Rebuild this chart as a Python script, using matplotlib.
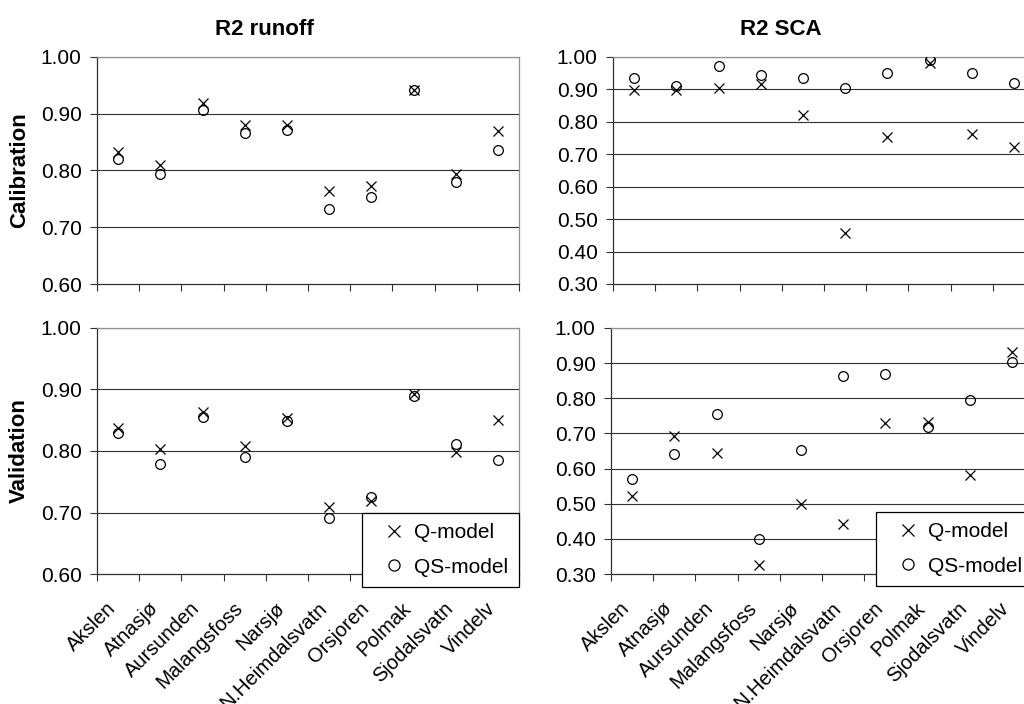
import numpy as np
import matplotlib
matplotlib.use('Agg')
import matplotlib.pyplot as plt
from matplotlib.lines import Line2D
from matplotlib.transforms import ScaledTranslation

plt.rcParams.update({
    'font.family': ['Liberation Sans', 'DejaVu Sans'],
    'font.size': 15,
})

# ── data ──────────────────────────────────────────────────────────────────────
catchments = ['Akslen', 'Atnasjø', 'Aursunden', 'Malangsfoss', 'Narsjø',
              'N.Heimdalsvatn', 'Orsjoren', 'Polmak', 'Sjodalsvatn', 'Vindelv']

# R2 runoff, calibration
run_cal_q  = [0.833, 0.810, 0.919, 0.880, 0.880, 0.763, 0.773, 0.941, 0.794, 0.870]
run_cal_qs = [0.821, 0.794, 0.906, 0.866, 0.871, 0.733, 0.754, 0.941, 0.780, 0.836]
# R2 SCA, calibration
sca_cal_q  = [0.897, 0.899, 0.905, 0.916, 0.820, 0.456, 0.753, 0.981, 0.763, 0.722]
sca_cal_qs = [0.936, 0.911, 0.971, 0.946, 0.936, 0.905, 0.951, 0.990, 0.951, 0.920]
# R2 runoff, validation
run_val_q  = [0.837, 0.804, 0.864, 0.808, 0.853, 0.709, 0.719, 0.892, 0.798, 0.850]
run_val_qs = [0.830, 0.779, 0.855, 0.791, 0.849, 0.691, 0.725, 0.890, 0.812, 0.786]
# R2 SCA, validation
sca_val_q  = [0.523, 0.694, 0.644, 0.325, 0.499, 0.442, 0.730, 0.732, 0.583, 0.931]
sca_val_qs = [0.569, 0.642, 0.755, 0.399, 0.654, 0.864, 0.869, 0.718, 0.796, 0.902]

W, H = 1024, 704
fig = plt.figure(figsize=(W/100, H/100), dpi=100)

def box(l, t, r, b):
    return [l/W, 1 - b/H, (r-l)/W, (b-t)/H]

ax_tl = fig.add_axes(box(97, 57, 519, 284))
ax_tr = fig.add_axes(box(613, 57, 1035, 284))
ax_bl = fig.add_axes(box(97, 328, 519, 574))
ax_br = fig.add_axes(box(611, 328, 1033, 574))

n = len(catchments)
x = np.arange(n)
shift = ScaledTranslation(-12/100, 3/100, fig.dpi_scale_trans)

def style(ax, q, qs, ylo, labels):
    ax.set_xlim(-0.5, n - 0.5)
    ax.set_ylim(ylo, 1.0)
    yt = np.round(np.arange(ylo, 1.0001, 0.1), 2)
    ax.set_yticks(yt)
    ax.set_yticklabels([f'{v:.2f}' for v in yt])
    for v in yt[1:]:
        ax.axhline(v, color='#303030', lw=0.8, zorder=1)
    ax.plot(x, q, ls='none', marker='x', ms=7, mew=0.9, color='black', zorder=3)
    ax.plot(x, qs, ls='none', marker='o', ms=7, mew=0.9, mfc='none',
            mec='black', zorder=3)
    ax.set_xticks(np.arange(-0.5, n, 1.0), minor=True)
    ax.set_xticks(x)
    ax.tick_params(axis='x', which='minor', length=5, width=0.8, color='#303030')
    ax.tick_params(axis='x', which='major', length=0, pad=20)
    ax.tick_params(axis='y', length=5, width=0.8, color='#303030', pad=6)
    if labels:
        ax.set_xticklabels(catchments, rotation=45, ha='right',
                           rotation_mode='anchor', fontsize=14.5)
        for t in ax.get_xticklabels():
            t.set_transform(t.get_transform() + shift)
    else:
        ax.set_xticklabels([])
    for s in ['left', 'bottom']:
        ax.spines[s].set_color('#303030')
        ax.spines[s].set_linewidth(0.9)
    for s in ['top', 'right']:
        ax.spines[s].set_color('#909090')
        ax.spines[s].set_linewidth(0.9)

style(ax_tl, run_cal_q, run_cal_qs, 0.6, False)
style(ax_tr, sca_cal_q, sca_cal_qs, 0.3, False)
style(ax_bl, run_val_q, run_val_qs, 0.6, True)
style(ax_br, sca_val_q, sca_val_qs, 0.3, True)

ax_tl.set_title('R2 runoff', fontweight='bold', fontsize=16, pad=16,
                x=(264 - 97) / 422)
ax_tr.set_title('R2 SCA', fontweight='bold', fontsize=16, pad=16,
                x=(781 - 613) / 422)
ax_tl.set_ylabel('Calibration', fontweight='bold', fontsize=16, labelpad=8)
ax_bl.set_ylabel('Validation', fontweight='bold', fontsize=16, labelpad=8)

handles = [Line2D([], [], ls='none', marker='x', ms=8, mew=0.9, color='black'),
           Line2D([], [], ls='none', marker='o', ms=8, mew=0.9, mfc='none',
                  mec='black')]
for ax, y0 in [(ax_bl, -0.053), (ax_br, -0.049)]:
    leg = ax.legend(handles, ['Q-model', 'QS-model'], loc='lower right',
                    bbox_to_anchor=(1.0, y0), borderaxespad=0,
                    fancybox=False, framealpha=1, edgecolor='black',
                    fontsize=15, handlelength=2.0, handletextpad=0.0,
                    borderpad=0.5, labelspacing=0.75)
    leg.get_frame().set_linewidth(0.9)
    leg.set_zorder(5)

fig.savefig('out.png', dpi=100, facecolor='white')
